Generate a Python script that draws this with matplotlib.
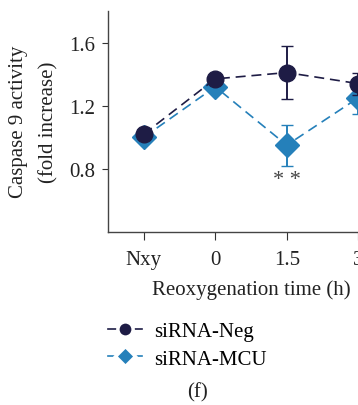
import matplotlib.pyplot as plt
from matplotlib.lines import Line2D

# Data
times = ['Nxy', '0', '1.5', '3']
neg_mean = [1.02, 1.37, 1.41, 1.34]
neg_err = [0.0, 0.0, 0.17, 0.07]
mcu_mean = [1.00, 1.32, 0.95, 1.25]
mcu_err = [0.0, 0.0, 0.13, 0.10]

neg_color = '#1e1c45'
mcu_color = '#2580ba'
text_color = '#222222'

plt.rcParams['font.family'] = ['Liberation Serif', 'DejaVu Serif']

fig = plt.figure(figsize=(3.58, 4.06), dpi=100)
# axes runs off the right edge like the cropped original
ax = fig.add_axes([108 / 358, 1 - 233 / 406, 286 / 358, 221 / 406])

x = list(range(len(times)))
ax.errorbar(x, neg_mean, yerr=neg_err, color=neg_color, marker='o', markersize=12,
            linestyle=(0, (6, 3.5)), linewidth=1.2, capsize=4, elinewidth=1.4, zorder=3)
ax.errorbar(x, mcu_mean, yerr=mcu_err, color=mcu_color, marker='D', markersize=12,
            linestyle=(0, (6, 3.5)), linewidth=1.2, capsize=4, elinewidth=1.4, zorder=2)

ax.text(2, 0.73, '* *', ha='center', va='center', fontsize=16, color='#444444')

ax.set_xlim(-0.5, 3.5)
ax.set_ylim(0.4, 1.8)
ax.set_xticks(x)
ax.set_xticklabels(times)
ax.set_yticks([0.8, 1.2, 1.6])
ax.set_yticklabels(['0.8', '1.2', '1.6'])
ax.tick_params(axis='both', labelsize=15, colors='#333333', labelcolor=text_color)
ax.tick_params(axis='x', length=6, pad=7)
ax.tick_params(axis='y', length=4, pad=5)

for side in ['top', 'right']:
    ax.spines[side].set_visible(False)
for side in ['left', 'bottom']:
    ax.spines[side].set_color('#444444')
    ax.spines[side].set_linewidth(1.0)

fig.text(34 / 358, 1 - 122 / 406, 'Caspase 9 activity\n(fold increase)', rotation=90,
         ha='center', va='center', multialignment='center', linespacing=1.8,
         fontsize=15, color=text_color)
fig.text(251 / 358, 1 - 290 / 406, 'Reoxygenation time (h)', ha='center', va='center',
         fontsize=15, color=text_color)

# legend handles: short dash, marker, short dash (white edge makes the gaps)
handles = [
    Line2D([], [], color=neg_color, marker='o', markersize=11, markeredgecolor='white',
           markeredgewidth=2.5, linestyle='-', linewidth=1.2),
    Line2D([], [], color=mcu_color, marker='D', markersize=10, markeredgecolor='white',
           markeredgewidth=2.5, linestyle='-', linewidth=1.2),
]
fig.legend(handles, ['siRNA-Neg', 'siRNA-MCU'], loc='center left',
           bbox_to_anchor=(89 / 358, 1 - 346 / 406), frameon=False, fontsize=15,
           handlelength=25 / 15, handletextpad=0.55, labelspacing=0.38)

fig.text(197 / 358, 1 - 393 / 406, '(f)', ha='center', va='center', fontsize=15, color=text_color)

fig.savefig('out.png', dpi=100)
